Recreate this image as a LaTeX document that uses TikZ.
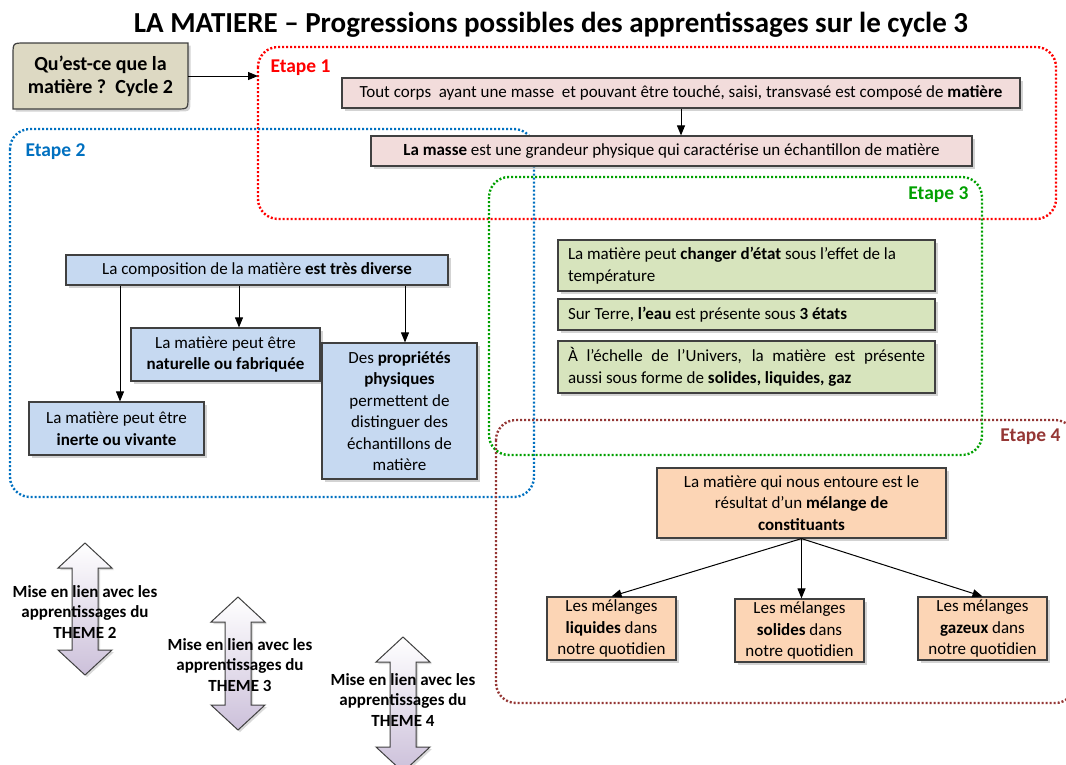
\documentclass[tikz,border=0pt]{standalone}
\usepackage{fontspec}
\setmainfont{Carlito}
\usetikzlibrary{arrows.meta,shadows}
\definecolor{qfill}{HTML}{DDD9C3}
\definecolor{pinkf}{HTML}{F2DCDB}
\definecolor{bluef}{HTML}{C6D9F1}
\definecolor{greenf}{HTML}{D7E4BD}
\definecolor{peachf}{HTML}{FCD5B5}
\definecolor{lav}{HTML}{CCC0DA}
\definecolor{bord}{HTML}{404040}
\definecolor{e1col}{HTML}{FF0000}
\definecolor{e2col}{HTML}{0070C0}
\definecolor{e3col}{HTML}{00A000}
\definecolor{e4col}{HTML}{953735}
\begin{document}
\begin{tikzpicture}[x=1pt,y=-1pt,
  font=\fontsize{17}{21.5}\selectfont,
  box/.style={draw=bord, line width=1.2pt, inner sep=0pt, align=center,
    drop shadow={opacity=0.35, shadow xshift=2.5pt, shadow yshift=-2.5pt}},
  gbox/.style={box, fill=greenf, inner xsep=10pt, text width=357pt},
  frame/.style={line width=2.4pt, dash pattern=on 2pt off 2pt, rounded corners=20pt},
  arr/.style={-{Triangle[length=10pt,width=8pt]}, line width=1pt},
  lab/.style={font=\fontsize{19.5}{22}\selectfont\bfseries},
  dbl/.style={top color=white, bottom color=lav, draw=black!75, line width=1pt,
    drop shadow={opacity=0.3, shadow xshift=2pt, shadow yshift=-2pt}},
  lien/.style={font=\fontsize{17}{20.5}\selectfont\bfseries, align=center}]
\useasboundingbox (0,0) rectangle (1066,764);

% title
\node[font=\fontsize{29}{32}\selectfont\bfseries] (title) at (551,25)
  {LA MATIERE -- Progressions possibles des apprentissages sur le cycle 3};

% frames
\draw[frame, e1col] (258,47) rectangle (1056,219);
\draw[frame, e2col] (10,129) rectangle (534,497);
\draw[frame, e3col] (489,177) rectangle (982,455);
\draw[frame, e4col] (496,420) rectangle (1075,703);
\node[lab, e1col, anchor=west] (lab1) at (267,68) {Etape 1};
\node[lab, e2col, anchor=west] (lab2) at (22,152) {Etape 2};
\node[lab, e3col, anchor=east] (lab3) at (972,195) {Etape 3};
\node[lab, e4col, anchor=east] (lab4) at (1064,437) {Etape 4};

% Cycle 2 box
\path[fill=qfill, draw=bord, line width=1.2pt,
    drop shadow={opacity=0.35, shadow xshift=2.5pt, shadow yshift=-2.5pt}]
  (13,109) -- (13,55) .. controls (13,43) .. (25,43) -- (188,43) -- (188,97)
  .. controls (188,109) .. (176,109) -- cycle;
\node[minimum width=175pt, minimum height=66pt, inner sep=0pt, align=center,
  font=\fontsize{20}{23}\selectfont\bfseries] (Q) at (100.5,76)
  {Qu'est-ce que la\\matière ?\ \ Cycle 2};
\coordinate (e1in) at (258,76);
\draw[arr] (Q.east) -- (e1in);

% Etape 1
\node[box, fill=pinkf, minimum width=678pt, minimum height=30pt] (t1) at (681,93)
  {Tout corps\ \ ayant une masse\ \ et pouvant être touché, saisi, transvasé est composé de \textbf{matière}};
\node[box, fill=pinkf, minimum width=601pt, minimum height=30pt] (t2) at (671.5,151)
  {\textbf{La masse} est une grandeur physique qui caractérise un échantillon de matière};
\draw[arr] (t1.south) -- (t1.south |- t2.north);

% Etape 2
\node[box, fill=bluef, minimum width=382pt, minimum height=30pt] (C) at (257,270)
  {La composition de la matière \textbf{est très diverse}};
\node[box, fill=bluef, minimum width=189pt, minimum height=53pt] (N) at (225.5,354.5)
  {La matière peut être\\\textbf{naturelle ou fabriquée}};
\node[box, fill=bluef, minimum width=175pt, minimum height=53pt] (I) at (116.5,428.5)
  {La matière peut être\\\textbf{inerte ou vivante}};
\node[box, fill=bluef, minimum width=155pt, minimum height=136pt] (P) at (399.5,411)
  {Des \textbf{propriétés}\\\textbf{physiques}\\permettent de\\distinguer des\\échantillons de\\matière};
\draw[arr] ([xshift=3.5pt]I.north |- C.south) -- ([xshift=3.5pt]I.north);
\draw[arr] ([xshift=13.5pt]N.north |- C.south) -- ([xshift=13.5pt]N.north);
\draw[arr] ([xshift=5.5pt]P.north |- C.south) -- ([xshift=5.5pt]P.north);

% Etape 3
\node[gbox, align=flush left, minimum height=51pt] (S1) at (746.5,265.5)
  {La matière peut \textbf{changer d’état} sous l’effet de la\\température};
\node[gbox, align=flush left, minimum height=31pt] (S2) at (746.5,314.5)
  {Sur Terre, \textbf{l’eau} est présente sous \textbf{3 états}};
\node[gbox, align=justify, minimum height=52pt] (S3) at (746.5,367)
  {À l’échelle de l’Univers, la matière est présente\linebreak aussi sous forme de \textbf{solides, liquides, gaz}};

% Etape 4
\node[box, fill=peachf, minimum width=289pt, minimum height=70pt] (M) at (801.5,503)
  {La matière qui nous entoure est le\\résultat d’un \textbf{mélange de}\\\textbf{constituants}};
\node[box, fill=peachf, minimum width=129pt, minimum height=63pt] (L1) at (611.5,628.5)
  {Les mélanges\\\textbf{liquides} dans\\notre quotidien};
\node[box, fill=peachf, minimum width=129pt, minimum height=63pt] (L2) at (799.5,630.5)
  {Les mélanges\\\textbf{solides} dans\\notre quotidien};
\node[box, fill=peachf, minimum width=129pt, minimum height=63pt] (L3) at (982.5,628.5)
  {Les mélanges\\\textbf{gazeux} dans\\notre quotidien};
\draw[arr] (M.south) -- (L1.north);
\draw[arr] (M.south) -- (M.south |- L2.north);
\draw[arr] (M.south) -- (L3.north);

% double arrows
\shadedraw[dbl] (85,543) -- (112,568) -- (98,568) -- (98,650) -- (112,650) -- (85,675)
  -- (58,650) -- (72,650) -- (72,568) -- (58,568) -- cycle;
\shadedraw[dbl] (238,597) -- (265,622) -- (251,622) -- (251,705) -- (265,705) -- (238,730)
  -- (211,705) -- (225,705) -- (225,622) -- (211,622) -- cycle;
\shadedraw[dbl] (403,637) -- (430,662) -- (416,662) -- (416,747) -- (430,747) -- (403,772)
  -- (376,747) -- (390,747) -- (390,662) -- (376,662) -- cycle;
\node[lien] (th2) at (85,612)
  {Mise en lien avec les\\apprentissages du\\THEME 2};
\node[lien] (th3) at (240,665)
  {Mise en lien avec les\\apprentissages du\\THEME 3};
\node[lien] (th4) at (403,700)
  {Mise en lien avec les\\apprentissages du\\THEME 4};
\end{tikzpicture}
\end{document}
